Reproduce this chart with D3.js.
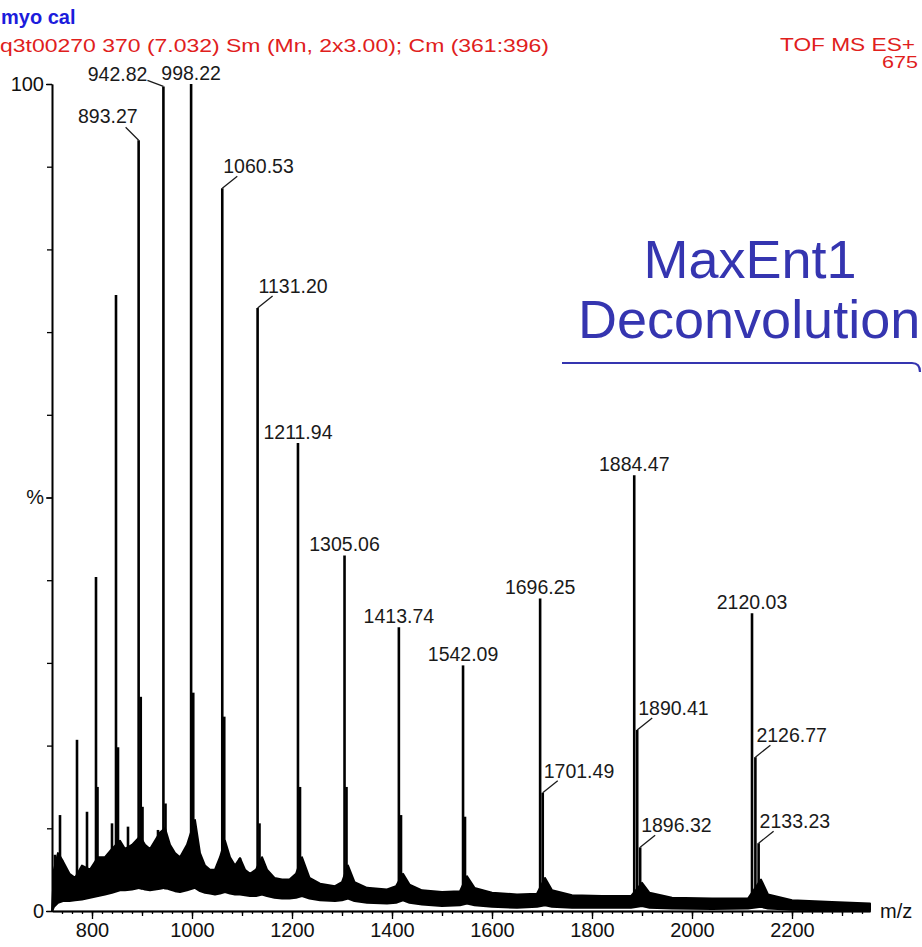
<!DOCTYPE html>
<html><head><meta charset="utf-8">
<script src="https://cdn.jsdelivr.net/npm/d3@7"></script>
<style>body{margin:0;background:#fff} svg{display:block}</style>
</head><body><svg id="c" width="922" height="947"></svg>
<script>
// ---- data ----
const peakMz  = [726, 736, 770, 790, 808, 811, 840, 848, 852, 872, 893.27, 897.5, 901, 932, 942.82, 947, 998.22, 1002.5, 1060.53, 1064.5, 1096, 1131.20, 1135, 1211.94, 1216, 1305.06, 1309, 1413.74, 1418, 1542.09, 1546, 1696.25, 1701.49, 1884.47, 1890.41, 1896.32, 2120.03, 2126.77, 2133.23];
const peakPct = [6.8, 11.6, 20.7, 12.0, 40.4, 15.0, 10.6, 74.5, 19.8, 10.2, 93.2, 25.9, 12.6, 9.8, 99.7, 13.0, 100, 26.4, 87.4, 23.5, 6.4, 72.9, 10.6, 56.6, 15.0, 43.0, 15.0, 34.3, 11.6, 29.7, 11.4, 37.8, 14.3, 52.7, 21.9, 7.7, 36.0, 18.6, 8.2];

const labelMz   = [893.27, 942.82, 998.22, 1060.53, 1131.20, 1211.94, 1305.06, 1413.74, 1542.09, 1696.25, 1701.49, 1884.47, 1890.41, 1896.32, 2120.03, 2126.77, 2133.23];
const labelText = ["893.27", "942.82", "998.22", "1060.53", "1131.20", "1211.94", "1305.06", "1413.74", "1542.09", "1696.25", "1701.49", "1884.47", "1890.41", "1896.32", "2120.03", "2126.77", "2133.23"];
const labelMode = ["left", "leftTop", "above", "right", "right", "above", "above", "above", "above", "above", "right", "above", "right", "right", "above", "right", "right"];

// noise / baseline band (m/z, low %, high %)
const bandMz = [720, 724, 732, 742, 755, 766, 780, 796, 812, 826, 840, 856, 866, 880, 896, 906, 916, 926, 936, 946, 956, 966, 976, 990, 1006, 1016, 1026, 1036, 1046, 1056, 1066, 1076, 1086, 1096, 1106, 1116, 1128, 1140, 1150, 1165, 1180, 1195, 1208, 1220, 1235, 1256, 1286, 1300, 1312, 1325, 1350, 1390, 1408, 1422, 1435, 1460, 1500, 1536, 1550, 1565, 1600, 1650, 1690, 1706, 1720, 1760, 1820, 1878, 1900, 1915, 1960, 2040, 2112, 2138, 2152, 2200, 2280, 2356];
const bandLo = [0, 0.5, 1.0, 1.2, 1.2, 1.3, 1.4, 1.6, 1.8, 2.0, 2.2, 2.5, 2.5, 2.6, 2.8, 2.6, 2.5, 2.6, 2.7, 2.8, 2.6, 2.4, 2.3, 2.5, 2.8, 2.4, 2.2, 2.1, 2.0, 2.1, 2.3, 2.1, 2.0, 2.0, 1.9, 1.8, 1.8, 2.0, 1.8, 1.6, 1.5, 1.5, 1.6, 1.8, 1.5, 1.3, 1.2, 1.3, 1.5, 1.2, 1.0, 0.9, 1.0, 1.3, 1.0, 0.8, 0.6, 0.7, 0.9, 0.7, 0.5, 0.4, 0.5, 0.7, 0.5, 0.4, 0.4, 0.4, 0.6, 0.4, 0.3, 0.25, 0.3, 0.5, 0.3, 0.15, 0.1, 0.1];
const bandHi = [0, 5, 7, 6, 4.5, 4, 5.5, 5, 6.5, 6.5, 7.5, 8.5, 7.5, 8, 9, 8, 7.5, 8.5, 9.5, 10, 8, 7, 6.5, 8, 11, 7, 5.5, 5, 5, 6.5, 8.5, 6.5, 5.5, 6.4, 5, 4.5, 5, 6.5, 5, 4, 3.8, 3.8, 4.5, 6.5, 4, 3.3, 3, 3.5, 5.5, 3.5, 2.8, 2.6, 3.0, 4.5, 3.2, 2.5, 2.3, 2.4, 4.2, 2.8, 2.2, 2.0, 2.1, 4.0, 2.5, 1.9, 1.8, 1.8, 3.4, 2.2, 1.6, 1.5, 1.5, 3.8, 2.0, 1.3, 1.1, 0.9];

const xTickLabels = [800, 1000, 1200, 1400, 1600, 1800, 2000, 2200];
const yTickValues = [0, 50, 100];
const yTickLabels = ["0", "%", "100"];

const titleLine1 = "myo cal";
const titleLine2 = "q3t00270  370 (7.032) Sm (Mn, 2x3.00); Cm (361:396)";
const infoLine1 = "TOF MS ES+";
const infoLine2 = "675";
const noteLine1 = "MaxEnt1";
const noteLine2 = "Deconvolution";
const xAxisName = "m/z";

// ---- drawing ----
const svg = d3.select("#c");
const FONT = "'Liberation Sans', Arial, sans-serif";
const x = d3.scaleLinear().domain([720, 2356]).range([52, 870]);
const y = d3.scaleLinear().domain([0, 100]).range([911, 84]);

// band
const band = bandMz.map((m, i) => ({m, lo: bandLo[i], hi: bandHi[i]}));
svg.append("path").datum(band)
  .attr("d", d3.area().x(d => x(d.m)).y0(d => y(d.lo)).y1(d => y(d.hi)))
  .attr("fill", "#000").attr("stroke", "#000").attr("stroke-width", 2).attr("stroke-linejoin", "round");

const bis = d3.bisector(d => d.m).left;
function loAt(m) { const i = Math.min(band.length - 1, Math.max(0, bis(band, m))); return band[i].lo; }

const peaks = peakMz.map((m, i) => ({m, p: peakPct[i]}));
svg.append("g").selectAll("line").data(peaks).join("line")
  .attr("x1", d => x(d.m)).attr("x2", d => x(d.m))
  .attr("y1", d => y(loAt(d.m))).attr("y2", d => y(d.p))
  .attr("stroke", "#000").attr("stroke-width", 2.6);

// axes
const gx = svg.append("g").attr("transform", `translate(0,${y(0)})`);
gx.append("g").call(d3.axisBottom(x).tickValues(d3.range(740, 2356, 20)).tickSize(3).tickSizeOuter(0).tickFormat(""));
gx.append("g").call(d3.axisBottom(x).tickValues(d3.range(800, 2356, 100)).tickSize(5).tickSizeOuter(0).tickFormat(""));
gx.append("g").call(d3.axisBottom(x).tickValues(xTickLabels).tickSize(8).tickSizeOuter(0).tickPadding(4).tickFormat(d3.format("d")));
gx.selectAll("path.domain").attr("stroke", "#000").attr("stroke-width", 1.6);
gx.selectAll(".tick line").attr("stroke", "#000").attr("stroke-width", 1.3);
gx.selectAll("text").attr("font-family", FONT).attr("font-size", 20).attr("fill", "#111");

const gy = svg.append("g").attr("transform", `translate(${x(720)},0)`);
gy.append("g").call(d3.axisLeft(y).tickValues(d3.range(0, 101, 10)).tickSize(5).tickSizeOuter(0).tickFormat(""));
gy.append("g").call(d3.axisLeft(y).tickValues(yTickValues).tickSize(6).tickSizeOuter(0).tickPadding(2)
  .tickFormat((d, i) => yTickLabels[i]));
gy.selectAll("path.domain").attr("stroke", "#000").attr("stroke-width", 1.6);
gy.selectAll(".tick line").attr("stroke", "#000").attr("stroke-width", 1.3);
gy.selectAll("text").attr("font-family", FONT).attr("font-size", 20).attr("fill", "#111");

svg.append("text").attr("x", x(2356) + 10).attr("y", y(0) + 7).text(xAxisName)
  .attr("font-family", FONT).attr("font-size", 20).attr("fill", "#111");

// peak labels
const lab = svg.append("g").attr("font-family", FONT).attr("font-size", 19.5).attr("fill", "#1a1a1a");
labelMz.forEach((m, i) => {
  const pk = peaks.find(d => d.m === m);
  const px = x(m), py = y(pk.p), mode = labelMode[i];
  if (mode === "above") {
    lab.append("text").attr("x", px).attr("y", py - 4).attr("text-anchor", "middle").text(labelText[i]);
  } else if (mode === "right") {
    lab.append("line").attr("x1", px).attr("y1", py).attr("x2", px + 15).attr("y2", py - 12)
      .attr("stroke", "#1a1a1a").attr("stroke-width", 1.3);
    lab.append("text").attr("x", px + 1).attr("y", py - 15).text(labelText[i]);
  } else if (mode === "left") {
    lab.append("line").attr("x1", px).attr("y1", py).attr("x2", px - 13).attr("y2", py - 13)
      .attr("stroke", "#1a1a1a").attr("stroke-width", 1.3);
    lab.append("text").attr("x", px - 1).attr("y", py - 17).attr("text-anchor", "end").text(labelText[i]);
  } else {
    lab.append("line").attr("x1", px).attr("y1", py).attr("x2", px - 16).attr("y2", py - 6)
      .attr("stroke", "#1a1a1a").attr("stroke-width", 1.3);
    lab.append("text").attr("x", px - 16).attr("y", py - 5).attr("text-anchor", "end").text(labelText[i]);
  }
});

// header texts
svg.append("text").attr("x", 1).attr("y", 24).text(titleLine1)
  .attr("font-family", FONT).attr("font-weight", "bold").attr("font-size", 20).attr("fill", "#1c1cdc");
svg.append("text").attr("x", 0).attr("y", 52).text(titleLine2)
  .attr("textLength", 549).attr("lengthAdjust", "spacingAndGlyphs")
  .attr("font-family", FONT).attr("font-size", 19).attr("fill", "#e0201c");
svg.append("text").attr("x", 780).attr("y", 51).text(infoLine1)
  .attr("textLength", 135).attr("lengthAdjust", "spacingAndGlyphs")
  .attr("font-family", FONT).attr("font-size", 18).attr("fill", "#e0201c");
svg.append("text").attr("x", 882).attr("y", 68).text(infoLine2)
  .attr("textLength", 36).attr("lengthAdjust", "spacingAndGlyphs")
  .attr("font-family", FONT).attr("font-size", 17).attr("fill", "#e0201c");

// annotation
svg.append("text").attr("x", 750).attr("y", 278).attr("text-anchor", "middle").text(noteLine1)
  .attr("font-family", FONT).attr("font-size", 54).attr("fill", "#3535b0");
svg.append("text").attr("x", 578).attr("y", 338).text(noteLine2)
  .attr("font-family", FONT).attr("font-size", 54).attr("fill", "#3535b0");
svg.append("path").attr("d", "M562,363 L912,363 Q920,363 920,372")
  .attr("fill", "none").attr("stroke", "#3535b0").attr("stroke-width", 2.2);
</script>
</body></html>
